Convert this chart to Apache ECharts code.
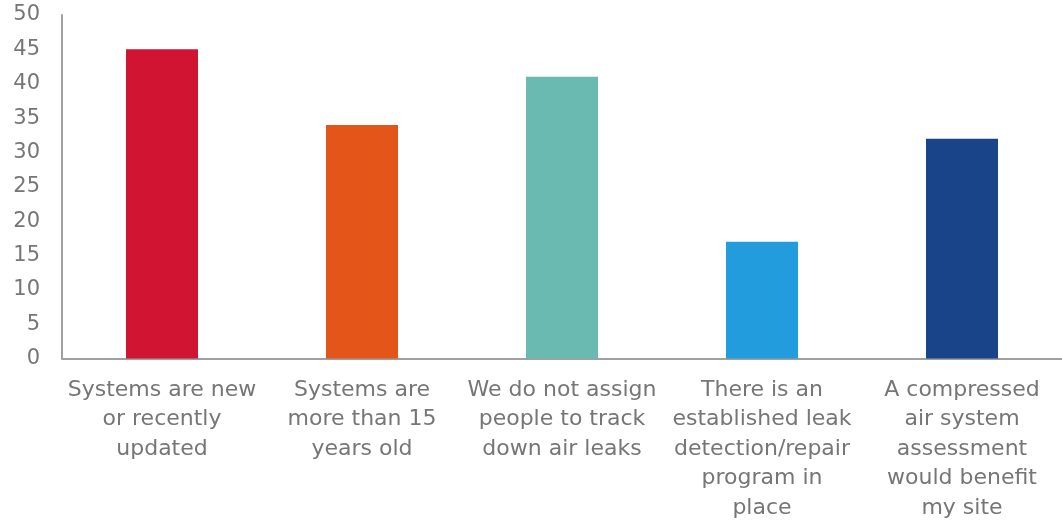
<!DOCTYPE html>
<html>
<head>
<meta charset="utf-8">
<script src="https://cdn.jsdelivr.net/npm/echarts@6/dist/echarts.min.js"></script>
<style>
  html, body { margin: 0; padding: 0; background: #ffffff; }
  #chart { width: 1062px; height: 523px; }
</style>
</head>
<body>
<div id="chart"></div>
<script>
// Survey statements (x-axis categories, pre-wrapped)
const categories = [
  'Systems are new\nor recently\nupdated',
  'Systems are\nmore than 15\nyears old',
  'We do not assign\npeople to track\ndown air leaks',
  'There is an\nestablished leak\ndetection/repair\nprogram in\nplace',
  'A compressed\nair system\nassessment\nwould benefit\nmy site'
];
// Number of responses per statement
const responses = [45, 34, 41, 17, 32];
// One fill per bar
const barColors = ['#D01432', '#E4551A', '#6ABAB1', '#229CDD', '#19448A'];

const FONT = 'DejaVu Sans';
const chart = echarts.init(document.getElementById('chart'));
chart.setOption({
  animation: false,
  grid: { left: 62, right: 0, top: 15, bottom: 163 },
  xAxis: {
    type: 'category',
    data: categories,
    axisLine: { show: true, lineStyle: { color: '#a0a0a0', width: 2 } },
    axisTick: { show: false },
    axisLabel: {
      interval: 0,
      color: '#767676',
      fontFamily: FONT,
      fontSize: 22,
      lineHeight: 29.5,
      margin: 17
    }
  },
  yAxis: {
    type: 'value',
    min: 0,
    max: 50,
    interval: 5,
    axisLine: { show: true, lineStyle: { color: '#a0a0a0', width: 2 } },
    axisTick: { show: false },
    splitLine: { show: false },
    axisLabel: {
      color: '#767676',
      fontFamily: FONT,
      fontSize: 21,
      margin: 22
    }
  },
  series: [{
    type: 'bar',
    data: responses.map((v, i) => ({ value: v, itemStyle: { color: barColors[i] } })),
    barWidth: '36%'
  }]
});
</script>
</body>
</html>
